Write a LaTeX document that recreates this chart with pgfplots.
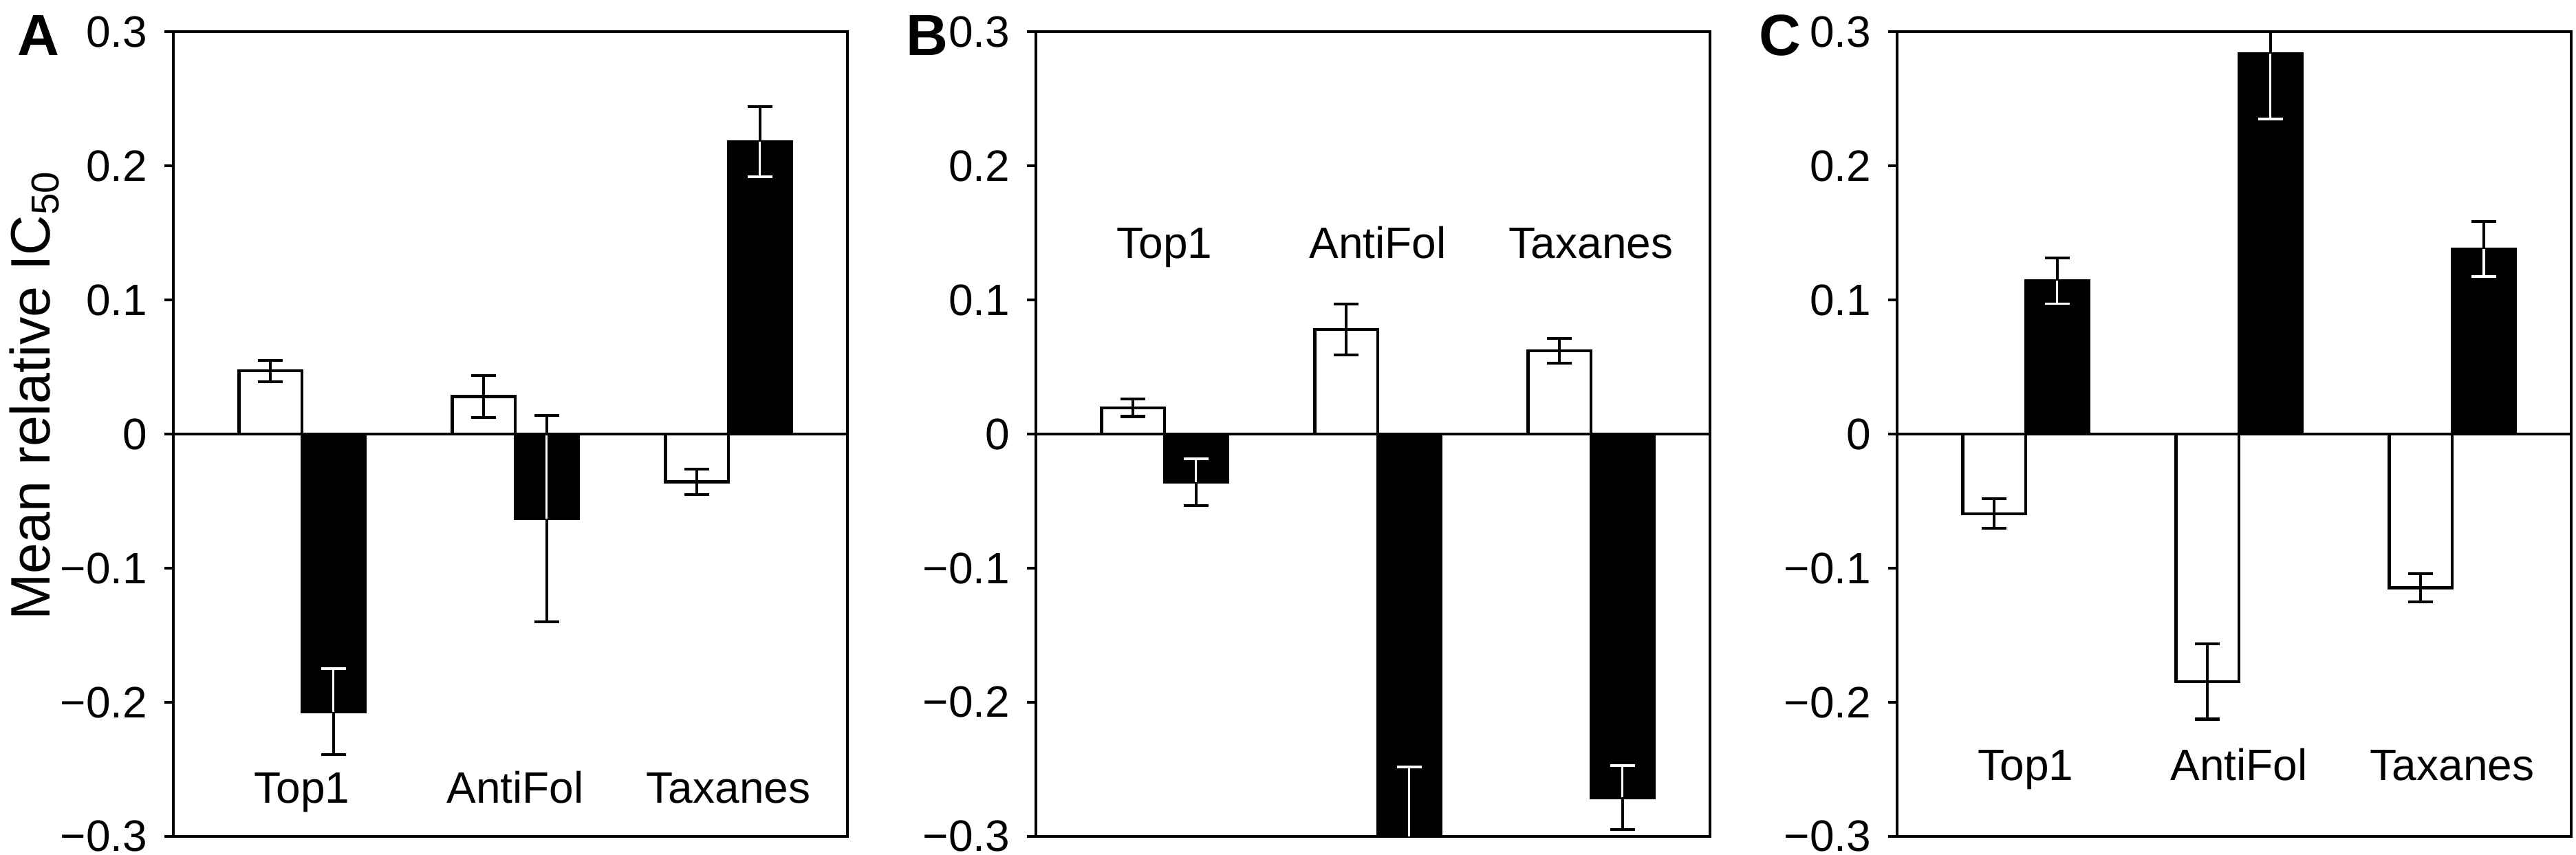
\documentclass[border=0pt]{standalone}
\usepackage{fontspec}
\setmainfont{Liberation Sans}
\usepackage{pgfplots}
\pgfplotsset{compat=1.18}

\newcommand{\catfont}{\fontsize{9.1}{10}\selectfont}
\pgfplotsset{
  panel/.style={
    scale only axis, width=4.9cm, height=5.85cm, anchor=south west,
    xmin=-0.603, xmax=2.558, ymin=-0.3, ymax=0.3,
    xtick=\empty, ytick={-0.3,-0.2,-0.1,0,0.1,0.2,0.3},
    yticklabels={−0.3,−0.2,−0.1,0,0.1,0.2,0.3},
    ytick pos=left, tick align=outside, major tick length=0.065cm,
    tick label style={font=\fontsize{9.1}{10}\selectfont},
    axis line style={line width=0.5pt}, tick style={line width=0.5pt, black},
  },
  whitebar/.style={ybar, bar width=0.295, bar shift=0pt, fill=white, draw=black, line width=0.6pt,
    error bars/.cd, y dir=both, y explicit,
    error bar style={draw=black, line width=0.6pt},
    error mark options={rotate=90, draw=black, line width=0.6pt, mark size=0.09cm}},
  blackbar/.style={ybar, bar width=0.295, bar shift=0pt, fill=black, draw=black, line width=0.6pt,
    error bars/.cd, y dir=both, y explicit,
    error bar style={draw=black, line width=0.6pt},
    error mark options={rotate=90, draw=black, line width=0.6pt, mark size=0.09cm}},
  innerup/.style={draw=none, mark=none,
    error bars/.cd, y dir=plus, y explicit,
    error bar style={draw=white, line width=0.5pt},
    error mark options={rotate=90, draw=white, line width=0.55pt, mark size=0.09cm}},
  innerdown/.style={draw=none, mark=none,
    error bars/.cd, y dir=minus, y explicit,
    error bar style={draw=white, line width=0.5pt},
    error mark options={rotate=90, draw=white, line width=0.55pt, mark size=0.09cm}},
}

\begin{document}
\begin{tikzpicture}
\path[use as bounding box] (0,-0.135) rectangle (18.725,6.08);

% panel A
\begin{axis}[panel, at={(1.26cm,0)}]
\addplot[whitebar] table[x=x, y=y, y error=e] {
x y e
-0.1475 0.047 0.008
0.8525 0.028 0.0155
1.8525 -0.0356 0.0094
};
\addplot[blackbar] table[x=x, y=y, y error=e] {
x y e
0.1475 -0.207 0.032
1.1475 -0.063 0.077
2.1475 0.218 0.026
};
\addplot[innerup] table[x=x, y=y, y error plus=e] {
x y e
0.1475 -0.207 0.032
1.1475 -0.063 0.063
};
\addplot[innerdown] table[x=x, y=y, y error minus=e] {
x y e
2.1475 0.218 0.026
};
\draw[line width=0.6pt] (rel axis cs:0,0.5) -- (rel axis cs:1,0.5);
\node[font=\catfont, anchor=base] at (axis cs:0,-0.275) {Top1};
\node[font=\catfont, anchor=base] at (axis cs:1,-0.275) {AntiFol};
\node[font=\catfont, anchor=base] at (axis cs:2,-0.275) {Taxanes};
\end{axis}

% panel B
\begin{axis}[panel, at={(7.53cm,0)}]
\addplot[whitebar] table[x=x, y=y, y error=e] {
x y e
-0.1475 0.0196 0.0065
0.8525 0.078 0.019
1.8525 0.062 0.0092
};
\addplot[blackbar] table[x=x, y=y, y error=e] {
x y e
0.1475 -0.036 0.0174
1.1475 -0.303 0.055
2.1475 -0.271 0.024
};
\addplot[innerup] table[x=x, y=y, y error plus=e] {
x y e
0.1475 -0.036 0.0174
1.1475 -0.303 0.055
2.1475 -0.271 0.024
};
\draw[line width=0.6pt] (rel axis cs:0,0.5) -- (rel axis cs:1,0.5);
\node[font=\catfont, anchor=base] at (axis cs:0,0.131) {Top1};
\node[font=\catfont, anchor=base] at (axis cs:1,0.131) {AntiFol};
\node[font=\catfont, anchor=base] at (axis cs:2,0.131) {Taxanes};
\end{axis}

% panel C
\begin{axis}[panel, at={(13.79cm,0)}]
\addplot[whitebar] table[x=x, y=y, y error=e] {
x y e
-0.1475 -0.0594 0.011
0.8525 -0.1846 0.028
1.8525 -0.1146 0.0106
};
\addplot[blackbar] table[x=x, y=y, y error=e] {
x y e
0.1475 0.1142 0.017
1.1475 0.2837 0.049
2.1475 0.138 0.0205
};
\addplot[innerdown] table[x=x, y=y, y error minus=e] {
x y e
0.1475 0.1142 0.017
1.1475 0.2837 0.049
2.1475 0.138 0.0205
};
\draw[line width=0.6pt] (rel axis cs:0,0.5) -- (rel axis cs:1,0.5);
\node[font=\catfont, anchor=base] at (axis cs:0,-0.258) {Top1};
\node[font=\catfont, anchor=base] at (axis cs:1,-0.258) {AntiFol};
\node[font=\catfont, anchor=base] at (axis cs:2,-0.258) {Taxanes};
\end{axis}

\node[font=\bfseries\fontsize{12}{14}\selectfont] at (0.28,5.82) {A};
\node[font=\bfseries\fontsize{12}{14}\selectfont] at (6.74,5.82) {B};
\node[font=\bfseries\fontsize{12}{14}\selectfont] at (12.94,5.82) {C};
\node[rotate=90, font=\fontsize{11.5}{13}\selectfont] at (0.25,3.21) {Mean relative IC\textsubscript{50}};
\end{tikzpicture}
\end{document}
